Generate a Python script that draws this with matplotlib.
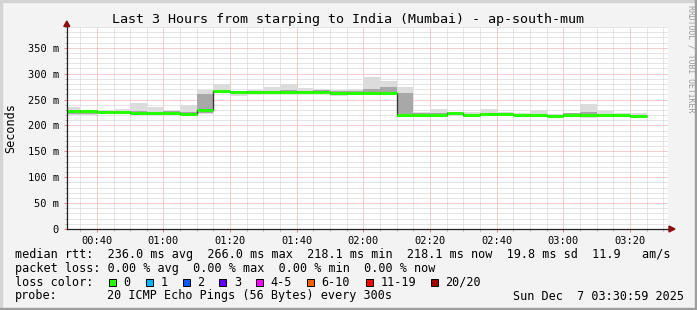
import matplotlib
matplotlib.use("Agg")
import matplotlib.pyplot as plt
import numpy as np
from matplotlib.patches import Rectangle, Polygon
from matplotlib.lines import Line2D
from matplotlib.ticker import MultipleLocator, FuncFormatter

# ---------------- data ----------------
title = "Last 3 Hours from starping to India (Mumbai) - ap-south-mum"
bin_start_min = 30          # first 5-minute bin starts at 00:30
bin_len_min = 5
view_start_min = 30 + 59 / 60   # 00:30:59
view_end_min = 211.4

median_ms = [227, 227, 225, 225, 223.8, 223.8, 223, 222.5, 228.8,
             266, 264.5, 264.5, 264.5, 265.4, 265, 264.5, 263.5, 263, 263.5, 262.8,
             221, 221, 221, 223.8, 220.5, 221.8, 221.8, 219.9, 219.9, 218.6,
             221, 220.5, 219.9, 219.9, 218.1]
smoke_min = [220.5, 221, 222, 222, 220, 220.5, 221, 221, 222,
             263, 256, 261, 261, 261, 262, 262, 256, 259, 258, 258,
             218.6, 220, 217.3, 218.6, 218, 219, 219, 217.3, 218, 216,
             218.6, 213.4, 217.3, 217.3, 215.6]
smoke_lo = [222, 222.5, 223, 223, 221, 221.5, 222, 222, 223,
            264, 262, 262, 262, 263, 263, 263, 259, 261, 261, 260,
            219.5, 220.5, 218.5, 220, 219, 220.5, 220.5, 218.5, 219, 217.5,
            220, 216, 218.5, 218.5, 217]
smoke_hi = [229, 229, 227, 227, 227, 226, 228, 226, 261,
            268, 266, 266, 267, 268, 267, 268, 266, 266, 270, 275,
            263.5, 223, 224, 225, 222, 224, 223, 222, 222, 220,
            223, 226, 222, 222, 220]
smoke_max = [235, 230, 229, 231.5, 244, 235, 230, 240, 268.6,
             280, 267.3, 268.6, 275, 280, 272.4, 271, 268.6, 270, 294, 285,
             275, 226, 231.4, 226, 226, 231, 226, 224.7, 229, 222,
             224.7, 241.6, 227.6, 224.7, 224.7]

stat_lines = [
    "median rtt:  236.0 ms avg  266.0 ms max  218.1 ms min  218.1 ms now  19.8 ms sd  11.9   am/s",
    "packet loss: 0.00 % avg  0.00 % max  0.00 % min  0.00 % now",
]
loss_labels = ["0", "1", "2", "3", "4-5", "6-10", "11-19", "20/20"]
loss_colors = ["#26ff00", "#00b8ff", "#0059ff", "#5e00ff", "#ff00ff",
               "#ff5e00", "#ff0000", "#a00000"]
probe_text = "20 ICMP Echo Pings (56 Bytes) every 300s"
date_text = "Sun Dec  7 03:30:59 2025"
watermark = "RRDTOOL / TOBI OETIKER"

# ---------------- figure ----------------
W, H = 697, 310
DPI = 100
MONO = "DejaVu Sans Mono"
plt.rcParams["font.family"] = MONO

fig = plt.figure(figsize=(W / DPI, H / DPI), dpi=DPI, facecolor="#f3f3f3")


def fx(px):
    return px / W


def fy(py):
    return 1 - py / H


# border shading
fig.patches.append(Rectangle((0, fy(2)), 1, 2 / H, transform=fig.transFigure,
                             color="#d4d4d4", zorder=0))
fig.patches.append(Rectangle((0, 0), 2 / W, 1, transform=fig.transFigure,
                             color="#d4d4d4", zorder=0))
fig.patches.append(Rectangle((0, 0), 1, 2 / H, transform=fig.transFigure,
                             color="#9e9e9e", zorder=0))
fig.patches.append(Rectangle((1 - 2 / W, 0), 2 / W, 1, transform=fig.transFigure,
                             color="#9e9e9e", zorder=0))

L, R, T, B = 66.8, 668.0, 27.0, 229.0
ax = fig.add_axes([fx(L), fy(B), fx(R - L), (B - T) / H])
ax.set_facecolor("white")

edges = bin_start_min + bin_len_min * np.arange(len(median_ms) + 1)

ax.stairs(smoke_max, edges, baseline=smoke_min, fill=True, color="#dcdcdc",
          zorder=2, lw=0)
ax.stairs(smoke_hi, edges, baseline=smoke_lo, fill=True, color="#a8a8a8",
          zorder=3, lw=0)
ax.stairs(median_ms, edges, baseline=None, color="#3a3a3a", lw=1.0, zorder=4)
ax.hlines(median_ms, edges[:-1], edges[1:], color=loss_colors[0], lw=2.2,
          zorder=5)

ax.set_xlim(view_start_min, view_end_min)
ax.set_ylim(0, 390)

ax.xaxis.set_major_locator(MultipleLocator(20))
ax.xaxis.set_minor_locator(MultipleLocator(5))
ax.yaxis.set_major_locator(MultipleLocator(50))
ax.yaxis.set_minor_locator(MultipleLocator(10))


def tfmt(v, pos):
    m = int(round(v))
    return f"{m // 60:02d}:{m % 60:02d}"


def yfmt(v, pos):
    v = int(round(v))
    return "0" if v == 0 else f"{v} m"


ax.xaxis.set_major_formatter(FuncFormatter(tfmt))
ax.yaxis.set_major_formatter(FuncFormatter(yfmt))

ax.grid(which="minor", color="#cccccc", lw=0.72, linestyle=(0, (1, 1)), zorder=1)
ax.grid(which="major", color="#f29a9a", lw=0.72, linestyle=(0, (1, 1)), zorder=1)
ax.set_axisbelow(True)

for s in ["top", "right"]:
    ax.spines[s].set_visible(False)
for s in ["left", "bottom"]:
    ax.spines[s].set_color("#202020")
    ax.spines[s].set_linewidth(0.9)
    ax.spines[s].set_zorder(6)

ax.tick_params(axis="both", which="major", length=2.2, width=0.7,
               colors="#e08080", labelsize=7.45, labelcolor="black")
ax.tick_params(axis="both", which="minor", length=1.5, width=0.7,
               colors="#b0b0b0")
ax.tick_params(axis="x", which="major", pad=2.5)
ax.tick_params(axis="y", which="major", pad=3.5)

# axis arrows
ax_col = "#8b1010"
fig.patches.append(Polygon([[fx(L - 3), fy(T - 0.5)], [fx(L + 3), fy(T - 0.5)],
                            [fx(L), fy(T - 6)]], closed=True,
                           transform=fig.transFigure, color=ax_col, zorder=10))
fig.patches.append(Polygon([[fx(R + 1), fy(B - 3)], [fx(R + 1), fy(B + 3)],
                            [fx(R + 7), fy(B)]], closed=True,
                           transform=fig.transFigure, color=ax_col, zorder=10))
fig.lines.append(Line2D([fx(R), fx(R + 1.5)], [fy(B), fy(B)],
                        transform=fig.transFigure, color="#202020", lw=0.9))

# title, labels, watermark
fig.text(fx(348), fy(19.3), title, ha="center", va="center", fontsize=9.6,
         family=MONO)
fig.text(fx(10.7), fy(128), "Seconds", rotation=90, ha="center", va="center",
         fontsize=8.5, family=MONO)
fig.text(fx(690.5), fy(5), watermark, rotation=270, ha="center", va="top",
         fontsize=5.9, family=MONO, color="#9a9a9a")

# legend / statistics
LEG = 8.5
fig.text(fx(15), fy(254.3), stat_lines[0], ha="left", va="center",
         fontsize=LEG, family=MONO)
fig.text(fx(15), fy(268.3), stat_lines[1], ha="left", va="center",
         fontsize=LEG, family=MONO)
fig.text(fx(15), fy(282.3), "loss color:", ha="left", va="center",
         fontsize=LEG, family=MONO)
box_x = [108.7, 145.7, 182.7, 219.3, 256.0, 307.0, 365.7, 430.7]
for bx, lab, col in zip(box_x, loss_labels, loss_colors):
    fig.patches.append(Rectangle((fx(bx), fy(286.3)), 7 / W, 7 / H,
                                 transform=fig.transFigure, facecolor=col,
                                 edgecolor="black", lw=0.7, zorder=10))
    fig.text(fx(bx + 14.6), fy(282.3), lab, ha="left", va="center",
             fontsize=LEG, family=MONO)
fig.text(fx(15), fy(296), "probe:", ha="left", va="center", fontsize=LEG,
         family=MONO)
fig.text(fx(107.3), fy(296), probe_text, ha="left", va="center", fontsize=LEG,
         family=MONO)
fig.text(fx(513.3), fy(296), date_text, ha="left", va="center", fontsize=LEG,
         family=MONO)

fig.savefig("out.png", dpi=DPI, facecolor=fig.get_facecolor())
